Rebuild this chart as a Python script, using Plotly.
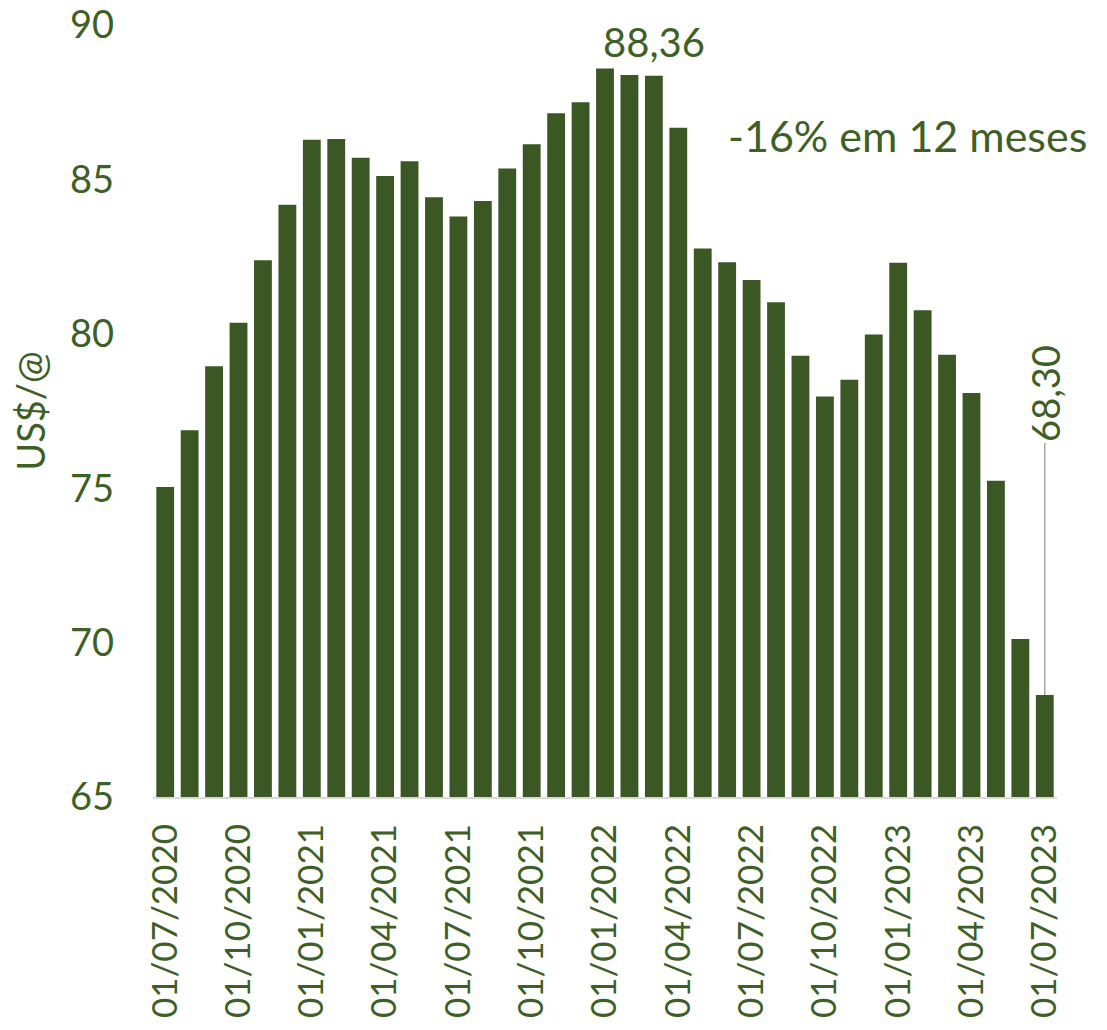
import plotly.graph_objects as go

months = [
    "01/07/2020", "01/08/2020", "01/09/2020", "01/10/2020", "01/11/2020", "01/12/2020",
    "01/01/2021", "01/02/2021", "01/03/2021", "01/04/2021", "01/05/2021", "01/06/2021",
    "01/07/2021", "01/08/2021", "01/09/2021", "01/10/2021", "01/11/2021", "01/12/2021",
    "01/01/2022", "01/02/2022", "01/03/2022", "01/04/2022", "01/05/2022", "01/06/2022",
    "01/07/2022", "01/08/2022", "01/09/2022", "01/10/2022", "01/11/2022", "01/12/2022",
    "01/01/2023", "01/02/2023", "01/03/2023", "01/04/2023", "01/05/2023", "01/06/2023",
    "01/07/2023",
]
prices = [
    75.04, 76.88, 78.95, 80.36, 82.38, 84.18,
    86.28, 86.31, 85.70, 85.11, 85.59, 84.42,
    83.80, 84.30, 85.35, 86.14, 87.14, 87.50,
    88.59, 88.38, 88.36, 86.67, 82.76, 82.32,
    81.74, 81.02, 79.29, 77.97, 78.51, 79.98,
    82.30, 80.76, 79.32, 78.08, 75.24, 70.12,
    68.30,
]
tick_labels = months[::3]
y_ticks = [65, 70, 75, 80, 85, 90]

BAR = "#3B5724"
TXT = "#3E5F26"
FONT = "Lato"

fig = go.Figure()
fig.add_trace(go.Bar(
    x=months, y=prices,
    marker=dict(color=BAR, line=dict(width=0)),
    hoverinfo="x+y",
))

peak_idx = 20
last_idx = len(prices) - 1

fig.add_annotation(
    x=months[peak_idx], y=prices[peak_idx],
    text="88,36", showarrow=False,
    yanchor="bottom", yshift=8,
    font=dict(family=FONT, size=40, color=TXT),
)
fig.add_annotation(
    x=months[last_idx], y=prices[last_idx],
    text="68,30", showarrow=True, arrowhead=0, arrowwidth=1.5,
    arrowcolor="#A6A6A6", ax=0, ay=-302, textangle=-90,
    font=dict(family=FONT, size=38, color=TXT),
)
fig.add_annotation(
    xref="paper", yref="paper", x=0.835, y=0.857,
    xanchor="center", yanchor="middle",
    text="-16% em 12 meses", showarrow=False,
    font=dict(family=FONT, size=43, color=TXT),
)

fig.update_layout(
    width=1107, height=1030,
    margin=dict(l=153, r=50, t=25, b=233),
    paper_bgcolor="white", plot_bgcolor="white",
    bargap=0.27,
    showlegend=False,
    font=dict(family=FONT, color=TXT),
)
fig.update_xaxes(
    type="category", automargin=False,
    range=[-0.5, len(months) - 0.5],
    tickmode="array", tickvals=tick_labels, ticktext=tick_labels,
    tickangle=-90,
    tickfont=dict(family=FONT, size=35, color=TXT),
    showline=True, linecolor="#D9D9D9", linewidth=2,
    showgrid=False, ticks="", ticklabelstandoff=11,
)
fig.update_yaxes(
    range=[65, 90], automargin=False,
    tickmode="array", tickvals=y_ticks, ticklabeloverflow="allow",
    tickfont=dict(family=FONT, size=38, color=TXT),
    showgrid=False, showline=False, zeroline=False, ticks="",
    ticklabelstandoff=38,
    title=dict(text="US$/@", font=dict(family=FONT, size=38, color=TXT), standoff=12),
)

fig.write_html(
    "out.html",
    config={"displayModeBar": False},
    post_script="document.body.style.margin='0';document.body.style.overflow='hidden';",
)
